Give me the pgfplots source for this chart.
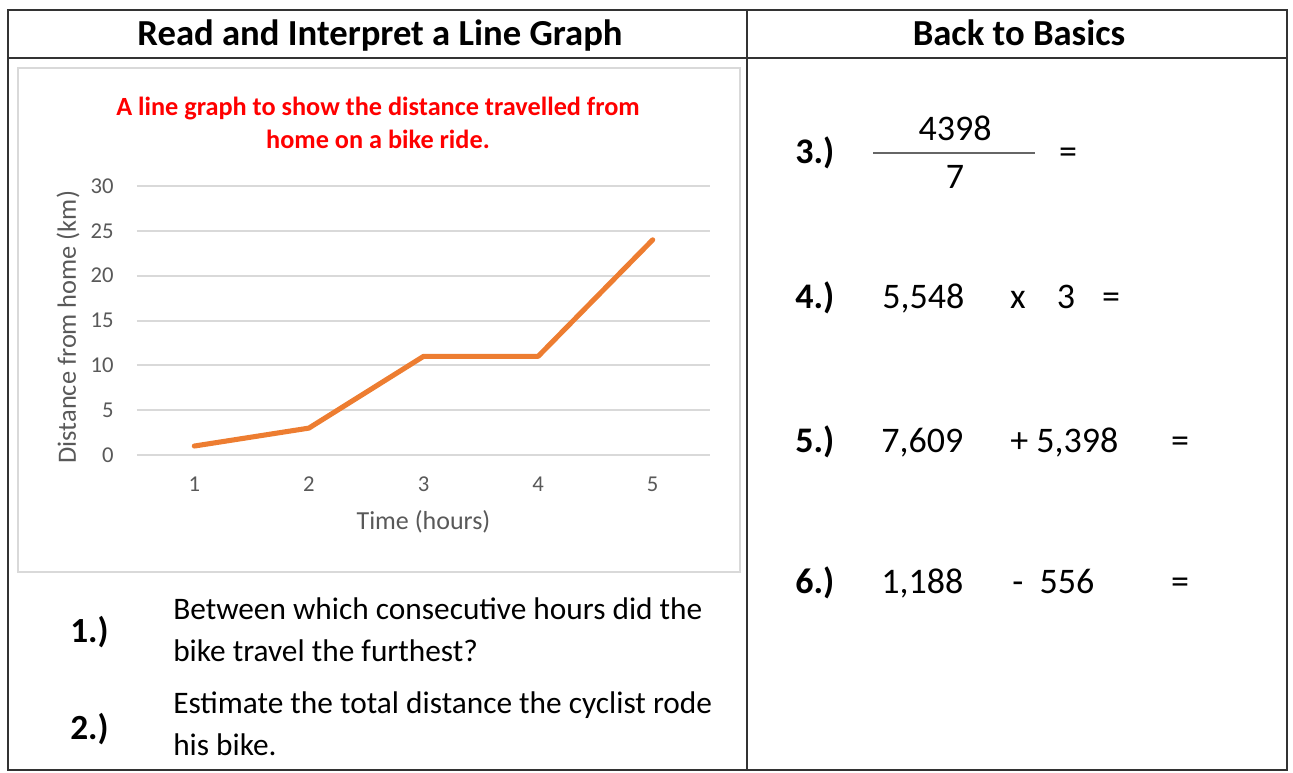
\documentclass[border=0pt]{standalone}
\usepackage{fontspec}
\setmainfont{Carlito}
\usepackage{pgfplots}
\pgfplotsset{compat=1.18}
\definecolor{lineorange}{HTML}{ED7D31}
\definecolor{gridgray}{HTML}{D9D9D9}
\definecolor{tickgray}{HTML}{595959}
\definecolor{framegray}{HTML}{333333}
\begin{document}
\begin{tikzpicture}
\begin{scope}[x=0.75pt,y=-0.75pt]
\useasboundingbox (0,0) rectangle (1293,772);
% table frame
\draw[framegray, line width=1.7pt] (8,10) rectangle (1287,770);
\draw[framegray, line width=1.7pt] (8,58) -- (1287,58);
\draw[framegray, line width=1.7pt] (747,10) -- (747,770);
% headers
\node[anchor=base, inner sep=0] at (380,45) {\fontsize{27.5}{32}\selectfont\bfseries Read and Interpret a Line Graph};
\node[anchor=base, inner sep=0] at (1019,45) {\fontsize{27.5}{32}\selectfont\bfseries Back to Basics};
% chart box
\draw[gridgray, line width=1pt] (18,68) rectangle (740,572);
% chart title
\node[anchor=base, inner sep=0, text=red] at (378,115) {\fontsize{19.7}{24}\selectfont\bfseries A line graph to show the distance travelled from};
\node[anchor=base, inner sep=0, text=red] at (378,148) {\fontsize{19.7}{24}\selectfont\bfseries home on a bike ride.};
% questions
\node[anchor=base west, inner sep=0] at (70,642) {\fontsize{26.5}{30}\selectfont\bfseries 1.)};
\node[anchor=base west, inner sep=0] at (173,619) {\fontsize{23.5}{28}\selectfont Between which consecutive hours did the};
\node[anchor=base west, inner sep=0] at (173,661) {\fontsize{23.5}{28}\selectfont bike travel the furthest?};
\node[anchor=base west, inner sep=0] at (70,739) {\fontsize{26.5}{30}\selectfont\bfseries 2.)};
\node[anchor=base west, inner sep=0] at (173,713) {\fontsize{23.5}{28}\selectfont Estimate the total distance the cyclist rode};
\node[anchor=base west, inner sep=0] at (173,755) {\fontsize{23.5}{28}\selectfont his bike.};
% right column
\def\rs{\fontsize{27}{32}\selectfont}
\node[anchor=base west, inner sep=0] at (795,163) {\rs\bfseries 3.)};
\node[anchor=base, inner sep=0] at (955,140) {\rs 4398};
\draw[gray!80!black, line width=1.5pt] (873,153) -- (1035,153);
\node[anchor=base, inner sep=0] at (955,188) {\rs 7};
\node[anchor=base, inner sep=0] at (1068,163) {\rs =};
\node[anchor=base west, inner sep=0] at (795,308) {\rs\bfseries 4.)};
\node[anchor=base west, inner sep=0] at (882,308) {\rs 5,548};
\node[anchor=base, inner sep=0] at (1018,308) {\rs x};
\node[anchor=base, inner sep=0] at (1066,308) {\rs 3};
\node[anchor=base, inner sep=0] at (1111,308) {\rs =};
\node[anchor=base west, inner sep=0] at (795,452) {\rs\bfseries 5.)};
\node[anchor=base west, inner sep=0] at (881,452) {\rs 7,609};
\node[anchor=base west, inner sep=0] at (1010,452) {\rs + 5,398};
\node[anchor=base, inner sep=0] at (1180,452) {\rs =};
\node[anchor=base west, inner sep=0] at (795,593) {\rs\bfseries 6.)};
\node[anchor=base west, inner sep=0] at (881,593) {\rs 1,188};
\node[anchor=base west, inner sep=0] at (1012,593) {\rs -\ \ 556};
\node[anchor=base, inner sep=0] at (1180,593) {\rs =};
\end{scope}
\begin{axis}[
  at={(137*0.75pt,-455*0.75pt)}, anchor=south west,
  scale only axis, width=429.75pt, height=201.75pt,
  xmin=0.5, xmax=5.5, ymin=0, ymax=30,
  xtick={1,2,3,4,5}, ytick={0,5,...,30},
  axis line style={draw=none},
  major tick length=0pt,
  ymajorgrids, grid style={gridgray, line width=1.5pt},
  clip=false,
  /pgf/number format/assume math mode=true,
  ticklabel style={font=\fontsize{17}{20}\selectfont, text=tickgray},
  yticklabel style={anchor=east, xshift=-14pt},
  xticklabel style={anchor=center, yshift=-22pt},
  xlabel={Time (hours)}, ylabel={Distance from home (km)},
  every axis x label/.style={at={(axis description cs:0.5,0)}, yshift=-50.25pt, anchor=center, font=\fontsize{19.5}{22}\selectfont, text=tickgray},
  every axis y label/.style={at={(axis description cs:0,0.5)}, xshift=-51.75pt, yshift=-5pt, rotate=90, anchor=center, font=\fontsize{19.8}{23}\selectfont, text=tickgray},
]
\addplot[lineorange, line width=3.8pt, line join=round, line cap=round] coordinates {(1,1) (2,3) (3,11) (4,11) (5,24)};
\end{axis}
\end{tikzpicture}
\end{document}
